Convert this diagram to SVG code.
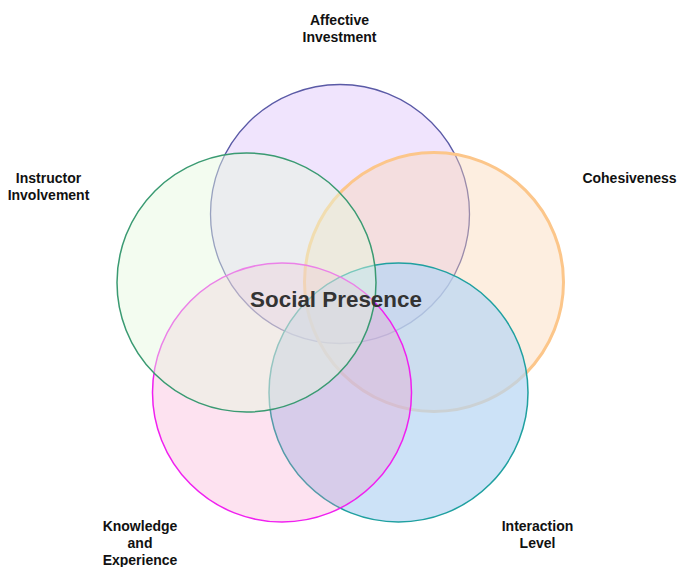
<svg xmlns="http://www.w3.org/2000/svg" width="679" height="567" viewBox="0 0 679 567">
<style>
.lbl{font-family:"Liberation Sans",Arial,sans-serif;font-weight:bold;font-size:14px;fill:#111;text-anchor:middle}
</style>
<rect width="679" height="567" fill="#fff"/>
<g id="affective-investment">
<circle cx="340" cy="214" r="129.5" fill="#f0e4fd" stroke="#5a5aa6" stroke-width="1.3"/>
</g>
<g id="cohesiveness">
<circle cx="434" cy="282" r="129.5" fill="#fad4b2" fill-opacity="0.4" stroke="#fcc68a" stroke-width="3"/>
</g>
<g id="interaction-level">
<circle cx="398.5" cy="392.5" r="129.5" fill="#b6d6f4" fill-opacity="0.7" stroke="#1fa0a0" stroke-width="1.5"/>
</g>
<g id="knowledge-experience">
<circle cx="282" cy="392.5" r="129.5" fill="#f78bc3" fill-opacity="0.25" stroke="#f020f0" stroke-width="1.5"/>
</g>
<g id="instructor-involvement">
<circle cx="246.5" cy="282.5" r="129.5" fill="#e4f8de" fill-opacity="0.45" stroke="#3a9a72" stroke-width="1.5"/>
</g>
<g id="social-presence">
<text x="336" y="307" font-family="Liberation Sans,Arial,sans-serif" font-weight="bold" font-size="22.4" fill="#333" text-anchor="middle">Social Presence</text>
</g>
<g id="labels">
<text class="lbl" x="339.5" y="25">Affective</text>
<text class="lbl" x="339.5" y="42">Investment</text>
<text class="lbl" x="48.5" y="183">Instructor</text>
<text class="lbl" x="48.5" y="200">Involvement</text>
<text class="lbl" x="629.5" y="183">Cohesiveness</text>
<text class="lbl" x="140" y="531">Knowledge</text>
<text class="lbl" x="140" y="548">and</text>
<text class="lbl" x="140" y="565">Experience</text>
<text class="lbl" x="537.5" y="531">Interaction</text>
<text class="lbl" x="537.5" y="548">Level</text>
</g>
<g id="connectors"/>
</svg>
